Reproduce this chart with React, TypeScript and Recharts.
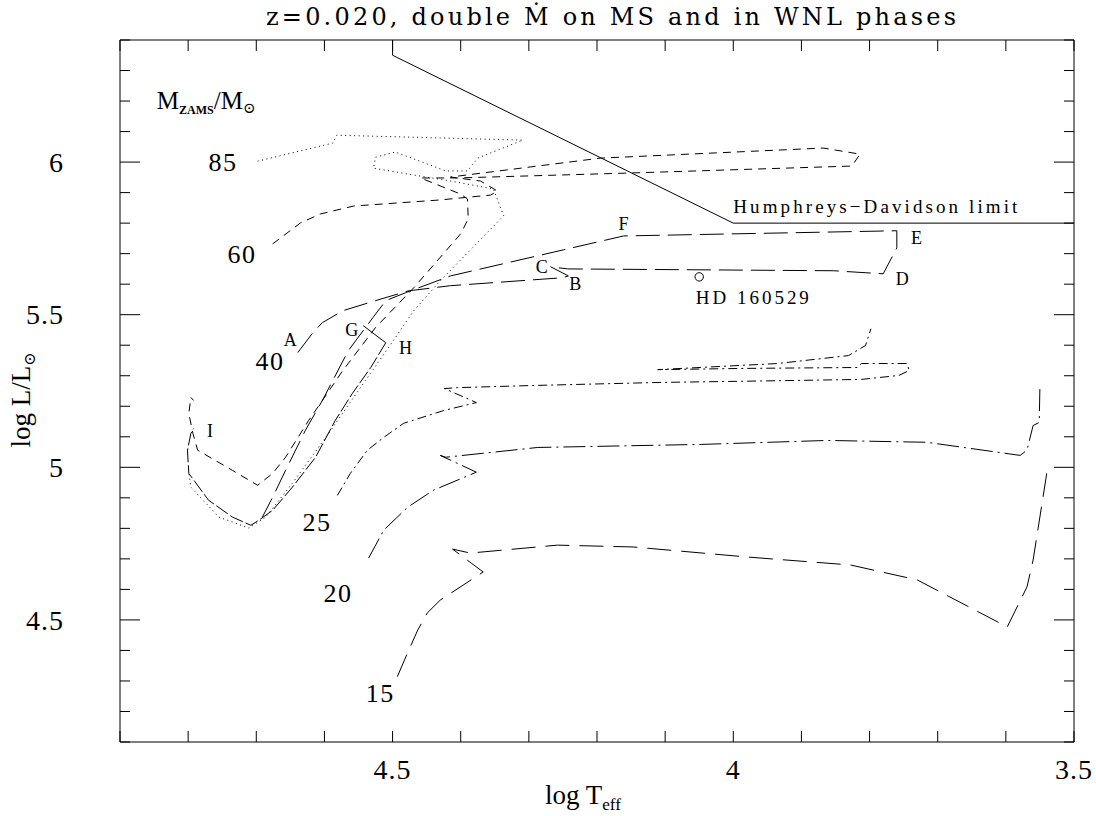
import React from 'react';
import { ComposedChart, Line, Scatter, XAxis, YAxis, ReferenceDot } from 'recharts';

type Pt = { x: number; y: number };
const P = (x: number, y: number): Pt => ({ x, y });

// x = log Teff, y = log L/Lsun
const humphreysDavidson: Pt[] = [P(4.5, 6.4), P(4.5, 6.35), P(4.0, 5.8), P(3.5, 5.8)];

const track85: Pt[] = [
  P(4.698, 6.003), P(4.588, 6.062), P(4.582, 6.088), P(4.309, 6.072), P(4.375, 6.013),
  P(4.39, 5.971), P(4.422, 5.971), P(4.496, 6.033), P(4.525, 6.016), P(4.528, 5.98),
  P(4.459, 5.954), P(4.415, 5.938), P(4.352, 5.912), P(4.337, 5.824), P(4.43, 5.611),
  P(4.469, 5.513), P(4.506, 5.392), P(4.54, 5.284), P(4.598, 5.098), P(4.647, 4.948),
  P(4.686, 4.837), P(4.711, 4.801), P(4.755, 4.837), P(4.796, 4.935), P(4.799, 4.98),
];

const track60: Pt[] = [
  P(4.676, 5.732), P(4.635, 5.801), P(4.606, 5.83), P(4.557, 5.856), P(4.43, 5.876),
  P(4.356, 5.892), P(4.346, 5.905), P(4.371, 5.938), P(4.415, 5.951), P(4.195, 6.013),
  P(3.868, 6.046), P(3.814, 6.026), P(3.826, 5.987), P(4.155, 5.964), P(4.405, 5.948),
  P(4.459, 5.948), P(4.4, 5.895), P(4.39, 5.879), P(4.389, 5.814), P(4.4, 5.765),
  P(4.469, 5.588), P(4.525, 5.458), P(4.573, 5.317), P(4.623, 5.154), P(4.657, 5.033),
  P(4.676, 4.98), P(4.698, 4.941), P(4.735, 4.99), P(4.786, 5.056), P(4.793, 5.111),
  P(4.799, 5.176), P(4.796, 5.229), P(4.792, 5.219),
];

const track40: Pt[] = [
  P(4.639, 5.376), P(4.617, 5.441), P(4.603, 5.474), P(4.573, 5.513), P(4.525, 5.546),
  P(4.477, 5.578), P(4.415, 5.595), P(4.251, 5.621), P(4.242, 5.627), P(4.268, 5.657),
  P(4.243, 5.65), P(3.853, 5.644), P(3.78, 5.634), P(3.76, 5.719), P(3.76, 5.775),
  P(4.161, 5.758), P(4.287, 5.693), P(4.415, 5.627), P(4.481, 5.572), P(4.51, 5.546),
  P(4.529, 5.49), P(4.565, 5.382), P(4.603, 5.219), P(4.628, 5.121), P(4.657, 4.99),
  P(4.676, 4.902), P(4.691, 4.837),
];

const segmentGH: Pt[] = [P(4.543, 5.464), P(4.51, 5.408)];

const track40Late: Pt[] = [
  P(4.51, 5.408), P(4.532, 5.327), P(4.559, 5.242), P(4.584, 5.154), P(4.613, 5.033),
  P(4.647, 4.935), P(4.676, 4.859), P(4.696, 4.827), P(4.708, 4.81), P(4.735, 4.837),
  P(4.77, 4.892), P(4.799, 4.98), P(4.801, 5.056), P(4.796, 5.111), P(4.792, 5.127),
];

const track25: Pt[] = [
  P(4.581, 4.908), P(4.562, 4.98), P(4.537, 5.056), P(4.513, 5.098), P(4.484, 5.144),
  P(4.425, 5.186), P(4.377, 5.212), P(4.424, 5.258), P(4.405, 5.261), P(4.295, 5.268),
  P(4.109, 5.278), P(3.924, 5.284), P(3.812, 5.288), P(3.757, 5.301), P(3.742, 5.317),
  P(3.745, 5.34), P(3.812, 5.34), P(3.818, 5.327), P(3.985, 5.324), P(4.111, 5.32),
  P(3.935, 5.34), P(3.831, 5.366), P(3.806, 5.399), P(3.798, 5.454),
];

const track20: Pt[] = [
  P(4.535, 4.703), P(4.513, 4.794), P(4.478, 4.869), P(4.44, 4.925), P(4.377, 4.984),
  P(4.43, 5.039), P(4.422, 5.033), P(4.287, 5.065), P(4.047, 5.075), P(3.862, 5.088),
  P(3.716, 5.082), P(3.579, 5.039), P(3.569, 5.056), P(3.56, 5.137), P(3.551, 5.147),
  P(3.55, 5.268),
];

const track15: Pt[] = [
  P(4.493, 4.314), P(4.478, 4.392), P(4.463, 4.467), P(4.449, 4.523), P(4.43, 4.565),
  P(4.367, 4.657), P(4.412, 4.732), P(4.386, 4.719), P(4.258, 4.745), P(4.147, 4.739),
  P(3.979, 4.706), P(3.828, 4.68), P(3.73, 4.631), P(3.598, 4.477), P(3.569, 4.608),
  P(3.56, 4.696), P(3.54, 4.98),
];

const hdStar: Pt[] = [P(4.05, 5.624)];

const xTicks = [3.5, 3.6, 3.7, 3.8, 3.9, 4.0, 4.1, 4.2, 4.3, 4.4, 4.5, 4.6, 4.7, 4.8, 4.9];
const yTicks = [4.1, 4.2, 4.3, 4.4, 4.5, 4.6, 4.7, 4.8, 4.9, 5.0, 5.1, 5.2, 5.3, 5.4, 5.5, 5.6, 5.7, 5.8, 5.9, 6.0, 6.1, 6.2, 6.3, 6.4];

const massLabels = [
  { x: 4.749, y: 6.0, text: '85' },
  { x: 4.721, y: 5.698, text: '60' },
  { x: 4.68, y: 5.35, text: '40' },
  { x: 4.611, y: 4.822, text: '25' },
  { x: 4.58, y: 4.59, text: '20' },
  { x: 4.518, y: 4.26, text: '15' },
];

const phaseLabels = [
  { x: 4.65, y: 5.418, text: 'A' },
  { x: 4.232, y: 5.6, text: 'B' },
  { x: 4.281, y: 5.658, text: 'C' },
  { x: 3.752, y: 5.619, text: 'D' },
  { x: 3.731, y: 5.752, text: 'E' },
  { x: 4.161, y: 5.799, text: 'F' },
  { x: 4.56, y: 5.451, text: 'G' },
  { x: 4.481, y: 5.391, text: 'H' },
  { x: 4.768, y: 5.121, text: 'I' },
];

const starLabel = { x: 3.972, y: 5.556, text: 'HD 160529' };
const limitLabel = { x: 4.0, y: 5.855, text: 'Humphreys\u2212Davidson limit' };
const legendTitle = { x: 4.846, y: 6.204 };
const TITLE = 'z=0.020, double M\u0307 on MS and in WNL phases';

const FONT = '"Liberation Serif", "DejaVu Serif", serif';
const WIDE_FONT = '"DejaVu Serif", "Liberation Serif", serif';
const W = 1096;
const H = 816;
// axes are 1px thick, so the plot frame lands at x 120..1074, y 40..742
const MARGIN = { top: 39, right: 21, bottom: 73, left: 119 };

const isMajor = (v: number) => Math.abs(v * 2 - Math.round(v * 2)) < 1e-6;
const fmt = (v: number) => String(Math.round(v * 10) / 10);

const BottomTick = (p: any) => {
  const v = p.payload.value;
  return (
    <g>
      <line x1={p.x} x2={p.x} y1={p.y} y2={p.y - 11} stroke="#000" />
      {isMajor(v) && (
        <text x={p.x} y={p.y + 37} textAnchor="middle" fontFamily={FONT} fontSize={28} letterSpacing={1} fill="#000">
          {fmt(v)}
        </text>
      )}
    </g>
  );
};

const TopTick = (p: any) => <line x1={p.x} x2={p.x} y1={p.y} y2={p.y + 11} stroke="#000" />;

const LeftTick = (p: any) => {
  const v = p.payload.value;
  const len = isMajor(v) ? 20 : 10;
  return (
    <g>
      <line x1={p.x} x2={p.x + len} y1={p.y} y2={p.y} stroke="#000" />
      {isMajor(v) && v < 6.35 && (
        <text x={p.x - 56} y={p.y} dy="0.35em" textAnchor="end" fontFamily={FONT} fontSize={28} letterSpacing={1} fill="#000">
          {fmt(v)}
        </text>
      )}
    </g>
  );
};

const RightTick = (p: any) => {
  const len = isMajor(p.payload.value) ? 20 : 10;
  return <line x1={p.x} x2={p.x - len} y1={p.y} y2={p.y} stroke="#000" />;
};

const textDot = (content: (cx: number, cy: number) => React.ReactElement) => (p: any) => content(p.cx, p.cy);

const tracks: { data: Pt[]; dash?: string; key: string }[] = [
  { key: 'hd', data: humphreysDavidson },
  { key: 'm85', data: track85, dash: '1 3.5' },
  { key: 'm60', data: track60, dash: '8 6' },
  { key: 'm40', data: track40, dash: '24 8' },
  { key: 'gh', data: segmentGH },
  { key: 'm40late', data: track40Late, dash: '14 3' },
  { key: 'm25', data: track25, dash: '9 4 2 4' },
  { key: 'm20', data: track20, dash: '22 5 2 5' },
  { key: 'm15', data: track15, dash: '24 10' },
];

export default function App() {
  // the figure fills the whole window, edge to edge
  React.useLayoutEffect(() => {
    document.body.style.margin = '0';
    document.body.style.overflow = 'hidden';
  }, []);

  return (
    <div style={{ position: 'relative', width: W, height: H }}>
      <ComposedChart width={W} height={H} margin={MARGIN}>
        <XAxis
          type="number" dataKey="x" domain={[3.5, 4.9]} reversed allowDataOverflow
          ticks={xTicks} interval={0} height={1} tickSize={0} tickMargin={0}
          tickLine={false} axisLine={{ stroke: '#000' }} tick={BottomTick}
        />
        <XAxis
          xAxisId="top" orientation="top" type="number" dataKey="x" domain={[3.5, 4.9]} reversed allowDataOverflow
          ticks={xTicks} interval={0} height={1} tickSize={0} tickMargin={0}
          tickLine={false} axisLine={{ stroke: '#000' }} tick={TopTick}
        />
        <YAxis
          type="number" domain={[4.1, 6.4]} allowDataOverflow ticks={yTicks} interval={0}
          width={1} tickSize={0} tickMargin={0} tickLine={false} axisLine={{ stroke: '#000' }} tick={LeftTick}
        />
        <YAxis
          yAxisId="right" orientation="right" type="number" domain={[4.1, 6.4]} allowDataOverflow ticks={yTicks} interval={0}
          width={1} tickSize={0} tickMargin={0} tickLine={false} axisLine={{ stroke: '#000' }} tick={RightTick}
        />
        {tracks.map((t) => (
          <Line
            key={t.key} data={t.data} dataKey="y" type="linear" stroke="#000" strokeWidth={1}
            strokeDasharray={t.dash} dot={false} activeDot={false} isAnimationActive={false}
          />
        ))}
        <Scatter
          data={hdStar} dataKey="y" isAnimationActive={false}
          shape={(p: any) => <circle cx={p.cx} cy={p.cy} r={4.2} fill="none" stroke="#000" strokeWidth={1} />}
        />
        {massLabels.map((m) => (
          <ReferenceDot
            key={'m' + m.text} x={m.x} y={m.y} r={0}
            shape={textDot((cx, cy) => (
              <text x={cx} y={cy} dy="0.35em" textAnchor="middle" fontFamily={FONT} fontSize={26} letterSpacing={1.5} fill="#000">
                {m.text}
              </text>
            ))}
          />
        ))}
        {phaseLabels.map((m) => (
          <ReferenceDot
            key={'p' + m.text} x={m.x} y={m.y} r={0}
            shape={textDot((cx, cy) => (
              <text x={cx} y={cy} dy="0.35em" textAnchor="middle" fontFamily={FONT} fontSize={18} fill="#000">
                {m.text}
              </text>
            ))}
          />
        ))}
        <ReferenceDot
          x={starLabel.x} y={starLabel.y} r={0}
          shape={textDot((cx, cy) => (
            <text x={cx} y={cy} dy="0.35em" textAnchor="middle" fontFamily={FONT} fontSize={19} textLength={113} lengthAdjust="spacing" fill="#000">
              {starLabel.text}
            </text>
          ))}
        />
        <ReferenceDot
          x={limitLabel.x} y={limitLabel.y} r={0}
          shape={textDot((cx, cy) => (
            <text x={cx} y={cy} dy="0.35em" textAnchor="start" fontFamily={FONT} fontSize={19} textLength={284} lengthAdjust="spacing" fill="#000">
              {limitLabel.text}
            </text>
          ))}
        />
        <ReferenceDot
          x={legendTitle.x} y={legendTitle.y} r={0}
          shape={textDot((cx, cy) => (
            <text x={cx} y={cy + 9} textAnchor="start" fontFamily={FONT} fontSize={25} fill="#000">
              <tspan>M</tspan>
              <tspan fontSize={12} fontWeight="bold" dy={5}>ZAMS</tspan>
              <tspan dy={-5}>/M</tspan>
              <tspan fontSize={15} dy={4}>{'\u2299'}</tspan>
            </text>
          ))}
        />
      </ComposedChart>
      <svg width={W} height={H} style={{ position: 'absolute', left: 0, top: 0, pointerEvents: 'none' }}>
        <text x={611} y={25} textAnchor="middle" fontFamily={WIDE_FONT} fontSize={24} textLength={690} lengthAdjust="spacing" fill="#000">
          {TITLE}
        </text>
        <text x={545} y={804} fontFamily={FONT} fontSize={27} fill="#000">
          <tspan>log T</tspan>
          <tspan fontSize={17} dy={6}>eff</tspan>
        </text>
        <text transform="translate(30,400) rotate(-90)" textAnchor="middle" fontFamily={FONT} fontSize={27} fill="#000">
          <tspan>log L/L</tspan>
          <tspan fontSize={16} dy={5}>{'\u2299'}</tspan>
        </text>
      </svg>
    </div>
  );
}
